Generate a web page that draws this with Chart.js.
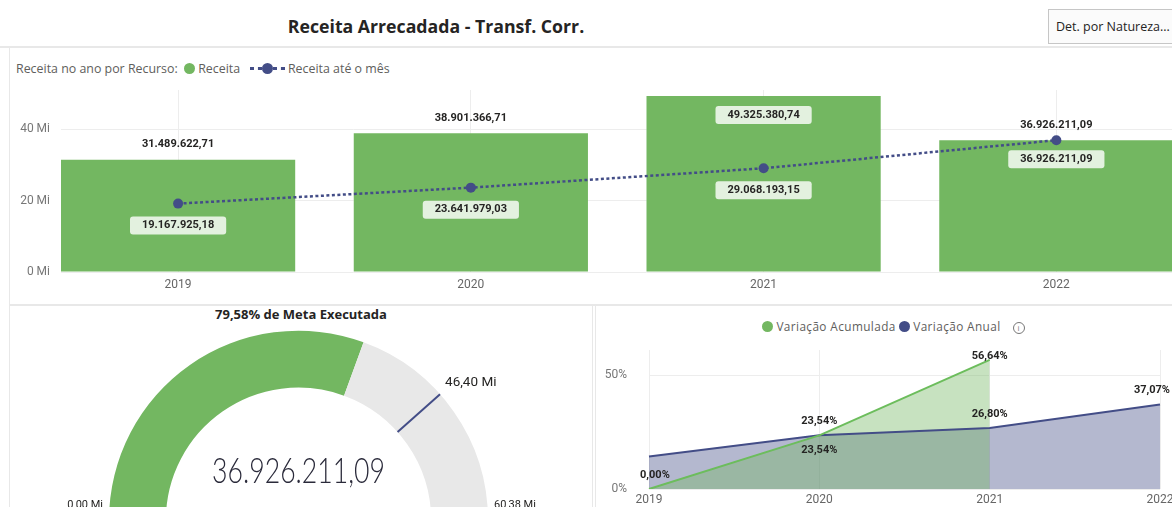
<!DOCTYPE html>
<html>
<head>
<meta charset="utf-8">
<script src="https://cdn.jsdelivr.net/npm/chart.js@4.4.0/dist/chart.umd.min.js"></script>
<style>
  html, body { margin: 0; padding: 0; }
  body { width: 1172px; height: 507px; overflow: hidden; position: relative; background: #fff;
         font-family: "Open Sans", sans-serif; color: #252423; }
  .abs { position: absolute; }
  .linha { position: absolute; background: #e8e8e8; }
  .dot { display: inline-block; width: 11px; height: 11px; border-radius: 50%; vertical-align: -1px; margin-right: 3px; }
  .dash { display: inline-block; width: 12px; border-top: 3px dotted #434D87; vertical-align: 3px; }
  .info { display: inline-block; width: 10px; height: 10px; border: 1px solid #777; border-radius: 50%;
          font-size: 8px; line-height: 10px; text-align: center; color: #777; vertical-align: 0px; margin-left: 12px; letter-spacing: 0; }
</style>
</head>
<body>

<div class="abs" style="left:236px;top:14px;width:400px;text-align:center;font-size:17.7px;font-weight:bold;">Receita Arrecadada - Transf. Corr.</div>
<div class="abs" style="left:1048px;top:9px;width:140px;height:35px;border:1px solid #c6c6c6;background:#fbfbfb;box-sizing:border-box;font-size:12.5px;line-height:33px;padding-left:7px;white-space:nowrap;">Det. por Natureza...</div>

<div class="linha" style="left:0;top:46px;width:1172px;height:2px;"></div>
<div class="linha" style="left:9px;top:48px;width:1px;height:459px;"></div>
<div class="linha" style="left:9px;top:304px;width:1163px;height:2px;"></div>
<div class="linha" style="left:592px;top:305px;width:1px;height:202px;"></div>
<div class="linha" style="left:595px;top:305px;width:1px;height:202px;"></div>

<div class="abs" style="left:16px;top:60px;font-size:12.4px;color:#605E5C;white-space:nowrap;">
  Receita no ano por Recurso:&nbsp;
  <span class="dot" style="background:#73B761"></span>Receita&nbsp;&nbsp;
  <span class="dash"></span><span class="dot" style="background:#434D87;margin-right:0"></span><span class="dash"></span>&nbsp;Receita até o mês
</div>

<div class="abs" style="left:10px;top:80px;width:1227px;height:220px;"><canvas id="graficoReceita"></canvas></div>

<div id="tituloMeta" class="abs" style="left:101px;top:305px;width:400px;text-align:center;font-size:13px;font-weight:bold;"></div>
<div class="abs" style="left:10px;top:306px;width:582px;height:254px;"><canvas id="graficoMeta"></canvas></div>

<div class="abs" style="left:597px;top:318px;width:575px;text-align:center;font-size:11.8px;letter-spacing:0.4px;color:#605E5C;white-space:nowrap;padding-left:18px;box-sizing:border-box;">
  <span class="dot" style="background:#73B761"></span>Variação Acumulada
  <span class="dot" style="background:#434D87"></span>Variação Anual<span class="info">i</span>
</div>
<div class="abs" style="left:597px;top:340px;width:618px;height:167px;"><canvas id="graficoVariacao"></canvas></div>

<script>
const anos = ['2019', '2020', '2021', '2022'];
const receitaAno = [31489622.71, 38901366.71, 49325380.74, 36926211.09];
const receitaAteMes = [19167925.18, 23641979.03, 29068193.15, 36926211.09];
const ticksMi = [0, 20, 40];

const variacaoAcumulada = [0, 23.54, 56.64, null];
const variacaoAnual = [14.3, 23.54, 26.80, 37.07];
const ticksPct = [0, 50];

const metaExecutada = 36926211.09;
const metaPrevista = 46400000;
const metaMaxima = 60380000;

const VERDE = '#73B761';
const AZUL = '#434D87';
const CINZA = '#E8E8E8';
const GRADE = '#EDEDED';
const FONTE_NUM = 'Roboto, "DejaVu Sans Condensed", sans-serif';

// numero no formato brasileiro: 1.234.567,89
function fmtBR(v, dec) {
  const s = Math.abs(v).toFixed(dec);
  let [int, frac] = s.split('.');
  int = int.replace(/\B(?=(\d{3})+(?!\d))/g, '.');
  return (v < 0 ? '-' : '') + int + (frac ? ',' + frac : '');
}

function rotulo(ctx, texto, x, y, caixa) {
  ctx.save();
  ctx.font = 'bold 11px ' + FONTE_NUM;
  const w = ctx.measureText(texto).width;
  if (caixa) {
    ctx.fillStyle = 'rgba(255,255,255,0.8)';
    ctx.beginPath();
    ctx.roundRect(x - w / 2 - 12, y - 9, w + 24, 18, 3);
    ctx.fill();
  }
  ctx.fillStyle = '#252423';
  ctx.textAlign = 'center';
  ctx.textBaseline = 'middle';
  ctx.fillText(texto, x, y);
  ctx.restore();
}

// largura fixa do eixo, sem a folga automatica dos rotulos
function eixoFixo(largura) {
  return s => { s.width = largura; s.paddingTop = 0; s.paddingBottom = 0; };
}

document.getElementById('tituloMeta').textContent =
  fmtBR(metaExecutada / metaPrevista * 100, 2) + '% de Meta Executada';

// ---- Receita no ano / até o mês ----
const rotulosReceita = {
  id: 'rotulos',
  afterDatasetsDraw(chart, args, opts) {
    const ctx = chart.ctx;
    chart.getDatasetMeta(0).data.forEach((b, i) => {
      const dentro = opts.barraDentro[i];
      rotulo(ctx, fmtBR(receitaAno[i], 2), b.x, dentro ? b.y + 19 : b.y - 15, dentro);
    });
    chart.getDatasetMeta(1).data.forEach((p, i) => {
      const acima = opts.linhaAcima[i];
      rotulo(ctx, fmtBR(receitaAteMes[i], 2), p.x, acima ? p.y - 15 : p.y + 22, !acima);
    });
  }
};

new Chart(document.getElementById('graficoReceita'), {
  type: 'bar',
  data: {
    labels: anos,
    datasets: [
      { type: 'bar', label: 'Receita', data: receitaAno, backgroundColor: VERDE,
        barPercentage: 0.8, categoryPercentage: 1, order: 1 },
      { type: 'line', label: 'Receita até o mês', data: receitaAteMes, borderColor: AZUL,
        borderWidth: 2.5, borderDash: [3, 2.5], pointRadius: 5, pointBackgroundColor: AZUL,
        pointBorderWidth: 0, order: 0 }
    ]
  },
  options: {
    responsive: true,
    maintainAspectRatio: false,
    animation: false,
    layout: { padding: { top: 10 } },
    plugins: {
      legend: { display: false },
      tooltip: { enabled: false },
      rotulos: { barraDentro: [false, false, true, true], linhaAcima: [false, false, false, true] }
    },
    scales: {
      x: {
        type: 'linear', min: 2018.6, max: 2022.6, offset: false,
        afterBuildTicks: s => { s.ticks = anos.map(a => ({ value: +a })); },
        afterFit: s => { s.height = 28; s.paddingLeft = 0; s.paddingRight = 0; },
        grid: { color: GRADE, drawTicks: false, offset: false },
        border: { display: false },
        ticks: { padding: 6, color: '#666', font: { family: FONTE_NUM, size: 12 }, callback: v => String(v) }
      },
      y: {
        min: 0, max: 51e6,
        afterBuildTicks: s => { s.ticks = ticksMi.map(v => ({ value: v * 1e6 })); },
        afterFit: eixoFixo(51),
        grid: { color: GRADE, drawTicks: false },
        border: { display: false },
        ticks: { padding: 11, color: '#777', font: { family: FONTE_NUM, size: 12 }, callback: v => (v / 1e6) + ' Mi' }
      }
    }
  },
  plugins: [rotulosReceita]
});

// ---- Meta (velocimetro) ----
const extrasMeta = {
  id: 'extrasMeta',
  afterDatasetsDraw(chart) {
    const arco = chart.getDatasetMeta(0).data[0];
    const cx = arco.x, cy = arco.y, ro = arco.outerRadius, ri = arco.innerRadius;
    const total = chart.options.circumference * Math.PI / 180;
    const a = arco.startAngle + metaPrevista / metaMaxima * total;
    const ctx = chart.ctx;
    ctx.save();
    ctx.strokeStyle = AZUL;
    ctx.lineWidth = 2;
    ctx.beginPath();
    ctx.moveTo(cx + ri * Math.cos(a), cy + ri * Math.sin(a));
    ctx.lineTo(cx + ro * Math.cos(a), cy + ro * Math.sin(a));
    ctx.stroke();

    ctx.fillStyle = '#252423';
    ctx.textBaseline = 'middle';
    ctx.font = '13.5px ' + FONTE_NUM;
    ctx.textAlign = 'left';
    ctx.fillText(fmtBR(metaPrevista / 1e6, 2) + ' Mi', cx + ro * Math.cos(a) + 5, cy + ro * Math.sin(a) - 12);
    ctx.font = '11px ' + FONTE_NUM;
    ctx.fillText(fmtBR(metaMaxima / 1e6, 2) + ' Mi', cx + ro + 6, cy - 15);
    ctx.textAlign = 'right';
    ctx.fillText(fmtBR(0, 2) + ' Mi', cx - ro - 6, cy - 15);

    // valor central em fonte fina e estreita
    ctx.textAlign = 'center';
    ctx.fillStyle = '#2a2a3a';
    ctx.font = '300 36px Lato, ' + FONTE_NUM;
    ctx.translate(cx, cy - 49);
    ctx.scale(0.74, 1);
    ctx.fillText(fmtBR(metaExecutada, 2), 0, 0);
    ctx.restore();
  }
};

new Chart(document.getElementById('graficoMeta'), {
  type: 'doughnut',
  data: {
    labels: ['Executado', 'Restante'],
    datasets: [{
      data: [metaExecutada, metaMaxima - metaExecutada],
      backgroundColor: [VERDE, CINZA],
      borderWidth: 0,
      hoverOffset: 0
    }]
  },
  options: {
    responsive: true,
    maintainAspectRatio: false,
    animation: false,
    rotation: -90,
    circumference: 180,
    cutout: '70%',
    layout: { padding: { left: 99, right: 104, top: 24.5, bottom: 39.5 } },
    plugins: { legend: { display: false }, tooltip: { enabled: false } }
  },
  plugins: [extrasMeta]
});

// ---- Variação acumulada / anual ----
const rotulosVariacao = {
  id: 'rotulosVar',
  afterDatasetsDraw(chart, args, opts) {
    const ctx = chart.ctx;
    const area = chart.chartArea;
    [[0, variacaoAcumulada, opts.acumulada], [1, variacaoAnual, opts.anual]].forEach(([ds, vals, pos]) => {
      chart.getDatasetMeta(ds).data.forEach((p, i) => {
        if (vals[i] == null || pos[i] === 'nenhum') return;
        const texto = fmtBR(vals[i], 2) + '%';
        ctx.font = 'bold 11px ' + FONTE_NUM;
        const w = ctx.measureText(texto).width;
        const x = Math.min(Math.max(p.x, area.left - 9 + w / 2), area.right + 10 - w / 2);
        let y = pos[i] === 'acima' ? p.y - 14 : p.y + 15;
        y = Math.max(y, area.top + 6);
        rotulo(ctx, texto, x, y, false);
      });
    });
  }
};

new Chart(document.getElementById('graficoVariacao'), {
  type: 'line',
  data: {
    labels: anos,
    datasets: [
      { label: 'Variação Acumulada', data: variacaoAcumulada, borderColor: '#6cbd5c',
        backgroundColor: 'rgba(115,183,97,0.4)', fill: 'origin', borderWidth: 2, pointRadius: 0 },
      { label: 'Variação Anual', data: variacaoAnual, borderColor: AZUL,
        backgroundColor: 'rgba(67,77,135,0.4)', fill: 'origin', borderWidth: 2, pointRadius: 0 }
    ]
  },
  options: {
    responsive: true,
    maintainAspectRatio: false,
    animation: false,
    layout: { padding: { top: 10, right: 55 } },
    plugins: {
      legend: { display: false },
      tooltip: { enabled: false },
      filler: { drawTime: 'beforeDatasetsDraw' },
      rotulosVar: {
        acumulada: ['acima', 'acima', 'acima', 'nenhum'],
        anual: ['nenhum', 'abaixo', 'acima', 'acima']
      }
    },
    scales: {
      x: {
        offset: false,
        afterFit: s => { s.height = 18; s.paddingLeft = 0; s.paddingRight = 0; },
        grid: { color: GRADE, drawTicks: false },
        border: { display: false },
        ticks: { padding: 4, color: '#666', font: { family: FONTE_NUM, size: 12 } }
      },
      y: {
        min: 0, max: 61,
        afterBuildTicks: s => { s.ticks = ticksPct.map(v => ({ value: v })); },
        afterFit: eixoFixo(52),
        grid: { color: GRADE, drawTicks: false },
        border: { display: false },
        ticks: { padding: 22, color: '#777', font: { family: FONTE_NUM, size: 12 }, callback: v => v + '%' }
      }
    }
  },
  plugins: [rotulosVariacao]
});
</script>
</body>
</html>
